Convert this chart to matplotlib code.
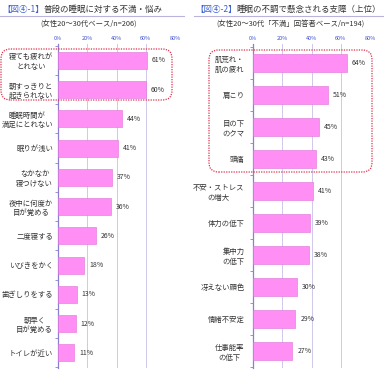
import matplotlib
matplotlib.use("Agg")
import matplotlib.pyplot as plt
from matplotlib.patches import FancyBboxPatch
from matplotlib.lines import Line2D

plt.rcParams['font.family'] = ['Noto Sans CJK JP', 'DejaVu Sans']

left_categories = ["寝ても疲れが\nとれない", "朝すっきりと\n起きられない", "睡眠時間が\n満足にとれない",
                   "眠りが浅い", "なかなか\n寝つけない", "夜中に何度か\n目が覚める", "二度寝する",
                   "いびきをかく", "歯ぎしりをする", "朝早く\n目が覚める", "トイレが近い"]
left_values = [61, 60, 44, 41, 37, 36, 26, 18, 13, 12, 11]

right_categories = ["肌荒れ・\n肌の疲れ", "肩こり", "目の下\nのクマ", "頭痛", "不安・ストレス\nの増大",
                    "体力の低下", "集中力\nの低下", "冴えない顔色", "情緒不安定", "仕事能率\nの低下"]
right_values = [64, 51, 45, 43, 41, 39, 38, 30, 29, 27]

x_ticks = [0, 20, 40, 60, 80]
x_ticklabels = ["0%", "20%", "40%", "60%", "80%"]

title_left_tag = "【図④-1】"
title_left = "普段の睡眠に対する不満・悩み"
subtitle_left = "(女性20～30代ベース/n=206)"
title_right_tag = "【図④-2】"
title_right = "睡眠の不調で懸念される支障（上位）"
subtitle_right = "(女性20～30代「不満」回答者ベース/n=194)"

W, H = 384, 373
fig = plt.figure(figsize=(W / 100, H / 100), dpi=100)
fig.patch.set_facecolor('white')

BAR = '#FF8FF5'
BAR_EDGE = '#E070D8'
GRID = '#CFC8EC'
AXIS = '#8A7FD0'
TICKC = '#3B4FC8'
TXT = '#333333'


def fx(px):
    return px / W


def fy(py):
    return 1 - py / H


def draw(ax, cats, vals, ylim, pad):
    n = len(cats)
    ys = list(range(n))
    ax.barh(ys, vals, height=0.58, color=BAR, edgecolor=BAR_EDGE, linewidth=0.4, zorder=3)
    ax.set_xlim(0, 80)
    ax.set_ylim(*ylim)
    ax.set_xticks(x_ticks)
    ax.set_xticklabels(x_ticklabels, fontsize=4, color=TICKC)
    ax.xaxis.tick_top()
    ax.tick_params(axis='x', length=0, pad=2)
    ax.set_yticks(ys)
    ax.set_yticklabels(cats, fontsize=5.3, color=TXT, multialignment='center', linespacing=1.25)
    ax.tick_params(axis='y', which='major', length=0, pad=pad)
    ax.set_yticks([i + 0.5 for i in range(-1, n)], minor=True)
    ax.tick_params(axis='y', which='minor', length=2.2, width=0.6, color=AXIS, direction='out')
    for s in ['top', 'right', 'bottom']:
        ax.spines[s].set_visible(False)
    ax.spines['left'].set_color(AXIS)
    ax.spines['left'].set_linewidth(0.9)
    ax.xaxis.grid(True, color=GRID, linewidth=0.7, zorder=0)
    ax.set_axisbelow(True)
    for y, v in zip(ys, vals):
        ax.annotate(f"{v}%", (v, y), xytext=(3.5, 0), textcoords='offset points',
                    va='center', ha='left', fontsize=5, color=TXT)


axL = fig.add_axes([fx(58), fy(368), fx(175 - 58), (368 - 44) / H])
draw(axL, left_categories, left_values, (10.52, -0.56), 3.5)

axR = fig.add_axes([fx(253), fy(368), fx(370 - 253), (368 - 44) / H])
draw(axR, right_categories, right_values, (9.53, -0.6), 6)

# titles
for x0, tag, title, sub, subx, lx0, lx1 in [
        (2, title_left_tag, title_left, subtitle_left, 89, 0, 184),
        (195, title_right_tag, title_right, subtitle_right, 290, 194, 384)]:
    t1 = fig.text(fx(x0), fy(9), tag, fontsize=6.1, color='#3A5FD0', va='center', ha='left')
    fig.add_artist(plt.Annotation(title, xy=(1, 0.5), xycoords=t1, va='center', ha='left',
                                  fontsize=6.1, color=TXT, annotation_clip=False))
    fig.text(fx(subx), fy(24), sub, fontsize=5.3, color=TXT, va='center', ha='center')
    fig.add_artist(Line2D([fx(lx0), fx(lx1)], [fy(16), fy(16)], color='#B9B4DC', linewidth=0.8))

# dotted rounded highlight boxes
for (x0, y0, x1, y1) in [(1, 49, 172, 100), (209, 50, 372, 172)]:
    box = FancyBboxPatch((fx(x0), fy(y1)), fx(x1 - x0), (y1 - y0) / H,
                         boxstyle="round,pad=0,rounding_size=0.025",
                         transform=fig.transFigure, fill=False,
                         edgecolor='#E0304A', linestyle=(0, (1, 1)), linewidth=0.9,
                         zorder=10)
    fig.add_artist(box)

fig.savefig("out.png", dpi=100)
